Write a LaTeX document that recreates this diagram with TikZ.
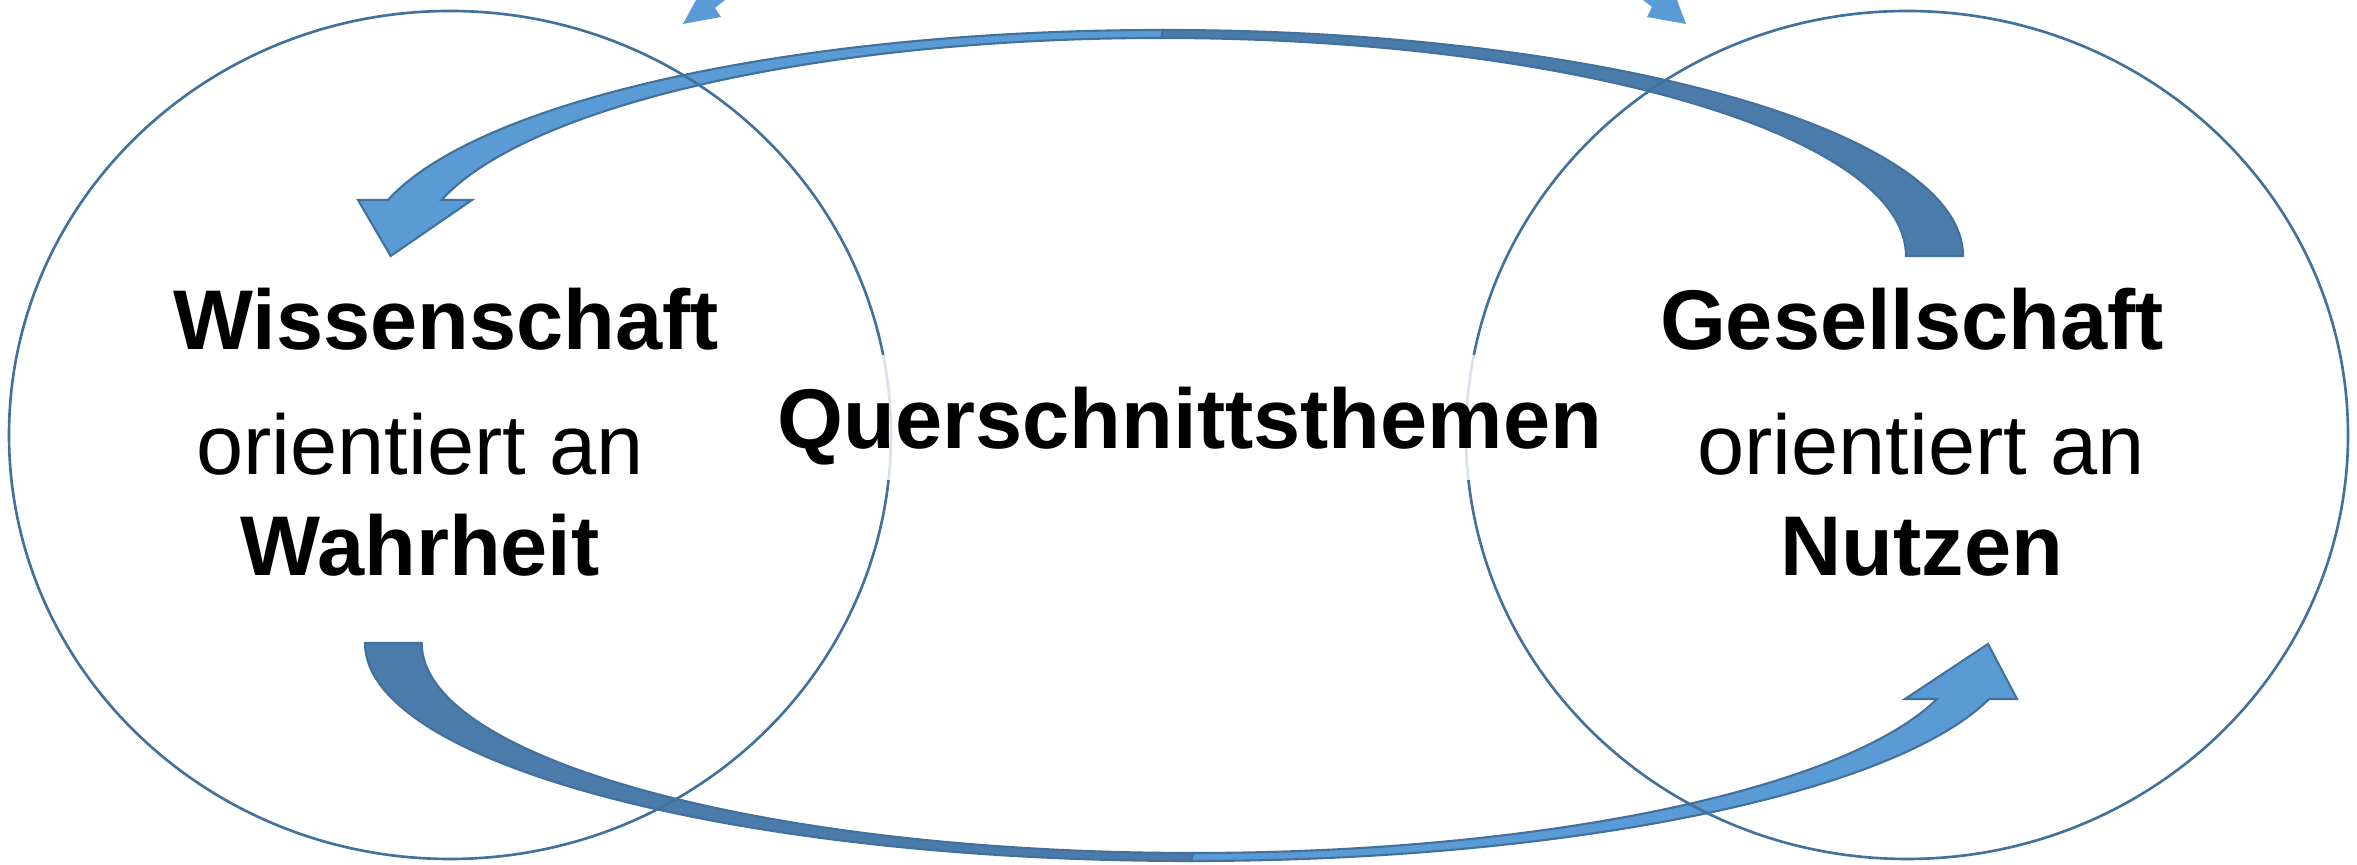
\documentclass[tikz,border=0pt]{standalone}
\usepackage{fontspec}
\setmainfont{Liberation Sans}
\definecolor{lineblue}{HTML}{41719C}
\definecolor{lightblue}{HTML}{5B9BD5}
\definecolor{darkband}{HTML}{4A7BAA}
\begin{document}
\begin{tikzpicture}[x=0.01cm,y=-0.01cm,
  ring/.style={draw=lineblue, line width=0.75pt},
  bandlight/.style={fill=lightblue, draw=lineblue, line width=0.6pt},
  banddark/.style={fill=darkband, draw=lineblue, line width=0.6pt},
  tipfrag/.style={fill=lightblue},
  bigword/.style={font=\fontsize{24.1}{29}\selectfont\bfseries, anchor=base, inner sep=0pt},
  smallword/.style={font=\fontsize{24.1}{29}\selectfont, anchor=base, inner sep=0pt}]
\useasboundingbox (0,0) rectangle (2357,865);
\fill[white] (0,0) rectangle (2357,865);
% top curved arrow
\path[banddark] (1963,256) arc[start angle=0, end angle=-90, x radius=800, y radius=226]
  -- (1161.3,38) arc[start angle=-90, end angle=0, x radius=744.7, y radius=218] -- cycle;
\path[bandlight] (1163,30) arc[start angle=-90, end angle=-165.65, x radius=800, y radius=226]
  -- (358,200) -- (390.7,256) -- (472,200) -- (441.6,200)
  arc[start angle=-165.12, end angle=-90, x radius=744.7, y radius=218] -- cycle;
% bottom curved arrow
\path[banddark] (365,643) arc[start angle=180, end angle=90, x radius=825.9, y radius=218]
  -- (1193.3,853) arc[start angle=90, end angle=180, x radius=771.6, y radius=210] -- cycle;
\path[bandlight] (1190.9,861) arc[start angle=90, end angle=14.88, x radius=825.9, y radius=218]
  -- (2017,699) -- (1988,644) -- (1905,699) -- (1937,699)
  arc[start angle=15.47, end angle=90, x radius=771.6, y radius=210] -- cycle;
% arrow tips cut by the top edge
\fill[tipfrag] (696,0) -- (683,24) -- (721,17) -- (715,8) -- (725,0) -- cycle;
\fill[tipfrag] (1643,0) -- (1652,7) -- (1647,17) -- (1686,24) -- (1677,0) -- cycle;
% ellipses
\draw[ring] (450,435) ellipse[x radius=441, y radius=424];
\draw[ring] (1907,435) ellipse[x radius=441, y radius=424];
% text backdrop
\fill[white, fill opacity=0.8] (770,355) rectangle (1610,480);
% texts
\node[bigword] (wiss) at (446,350) {Wissenschaft};
\node[smallword] (orl) at (420,475) {orientiert an};
\node[bigword] (wahr) at (420,576) {Wahrheit};
\node[bigword] (ges) at (1912,350) {Gesellschaft};
\node[smallword] (orr) at (1921,475) {orientiert an};
\node[bigword] (nutz) at (1922,576) {Nutzen};
\node[bigword] (quer) at (1190,449) {Querschnittsthemen};
\end{tikzpicture}
\end{document}
